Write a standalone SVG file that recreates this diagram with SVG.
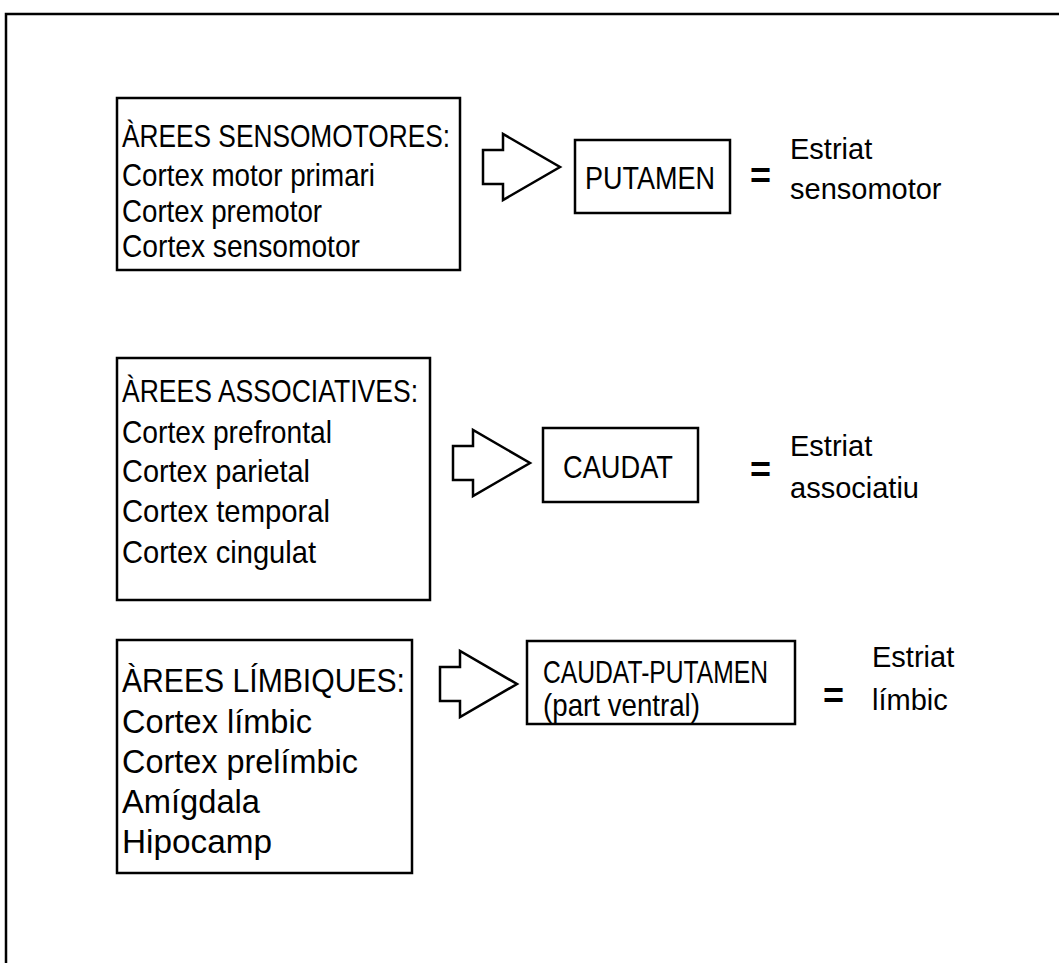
<svg xmlns="http://www.w3.org/2000/svg" width="1059" height="963" viewBox="0 0 1059 963">
<style>
.box{fill:#fff;stroke:#000;stroke-width:2.5}
.arr{fill:#fff;stroke:#000;stroke-width:2.5;stroke-linejoin:miter}
.t{font-family:"Liberation Sans",Arial,sans-serif;font-size:32px;fill:#000}
.l{font-family:"Liberation Sans",Arial,sans-serif;font-size:33px;fill:#000}
.s{font-family:"Liberation Sans",Arial,sans-serif;font-size:29px;fill:#000}
.eq{font-family:"Liberation Sans",Arial,sans-serif;font-size:36px;font-weight:bold;fill:#000}
</style>
<rect width="1059" height="963" fill="#fff"/>
<g id="frame" stroke="#000" stroke-width="2.5" fill="none">
<path d="M6 963 V14 H1059"/>
</g>
<g id="sensomotores">
<rect class="box" x="117" y="98" width="343" height="172"/>
<text class="t" x="122" y="147" textLength="328" lengthAdjust="spacingAndGlyphs">ÀREES SENSOMOTORES:</text>
<text class="t" x="122" y="186" textLength="253" lengthAdjust="spacingAndGlyphs">Cortex motor primari</text>
<text class="t" x="122" y="222" textLength="200" lengthAdjust="spacingAndGlyphs">Cortex premotor</text>
<text class="t" x="122" y="257" textLength="238" lengthAdjust="spacingAndGlyphs">Cortex sensomotor</text>
</g>
<g id="putamen">
<rect class="box" x="575" y="140" width="155" height="73"/>
<text class="t" x="585" y="189" textLength="130" lengthAdjust="spacingAndGlyphs">PUTAMEN</text>
</g>
<g id="estriat-sensomotor">
<text class="eq" x="750" y="188">=</text>
<text class="s" x="790" y="159">Estriat</text>
<text class="s" x="790" y="199">sensomotor</text>
</g>
<g id="associatives">
<rect class="box" x="117" y="358" width="313" height="242"/>
<text class="t" x="122" y="402" textLength="296" lengthAdjust="spacingAndGlyphs">ÀREES ASSOCIATIVES:</text>
<text class="t" x="122" y="443" textLength="210" lengthAdjust="spacingAndGlyphs">Cortex prefrontal</text>
<text class="t" x="122" y="482" textLength="188" lengthAdjust="spacingAndGlyphs">Cortex parietal</text>
<text class="t" x="122" y="522" textLength="208" lengthAdjust="spacingAndGlyphs">Cortex temporal</text>
<text class="t" x="122" y="563" textLength="194" lengthAdjust="spacingAndGlyphs">Cortex cingulat</text>
</g>
<g id="caudat">
<rect class="box" x="543" y="428" width="155" height="74"/>
<text class="t" x="563" y="478" textLength="110" lengthAdjust="spacingAndGlyphs">CAUDAT</text>
</g>
<g id="estriat-associatiu">
<text class="eq" x="750" y="482">=</text>
<text class="s" x="790" y="456">Estriat</text>
<text class="s" x="790" y="498">associatiu</text>
</g>
<g id="limbiques">
<rect class="box" x="117" y="640" width="295" height="233"/>
<text class="l" x="122" y="692" textLength="283" lengthAdjust="spacingAndGlyphs">ÀREES LÍMBIQUES:</text>
<text class="l" x="122" y="733" textLength="190" lengthAdjust="spacingAndGlyphs">Cortex límbic</text>
<text class="l" x="122" y="773" textLength="236" lengthAdjust="spacingAndGlyphs">Cortex prelímbic</text>
<text class="l" x="122" y="813" textLength="138" lengthAdjust="spacingAndGlyphs">Amígdala</text>
<text class="l" x="122" y="853" textLength="150" lengthAdjust="spacingAndGlyphs">Hipocamp</text>
</g>
<g id="caudat-putamen">
<rect class="box" x="527" y="641" width="268" height="83"/>
<text class="t" x="543" y="683" font-size="27" textLength="225" lengthAdjust="spacingAndGlyphs">CAUDAT-PUTAMEN</text>
<text class="t" x="543" y="716" font-size="27" textLength="157" lengthAdjust="spacingAndGlyphs">(part ventral)</text>
</g>
<g id="estriat-limbic">
<text class="eq" x="823" y="708">=</text>
<text class="s" x="872" y="667">Estriat</text>
<text class="s" x="872" y="710">límbic</text>
</g>
<g id="connectors">
<polygon class="arr" points="483,150 503,150 503,134 560,167 503,200 503,184 483,184"/>
<polygon class="arr" points="453,446 473,446 473,430 530,463 473,496 473,480 453,480"/>
<polygon class="arr" points="440,667 460,667 460,651 517,684 460,717 460,701 440,701"/>
</g>
</svg>
